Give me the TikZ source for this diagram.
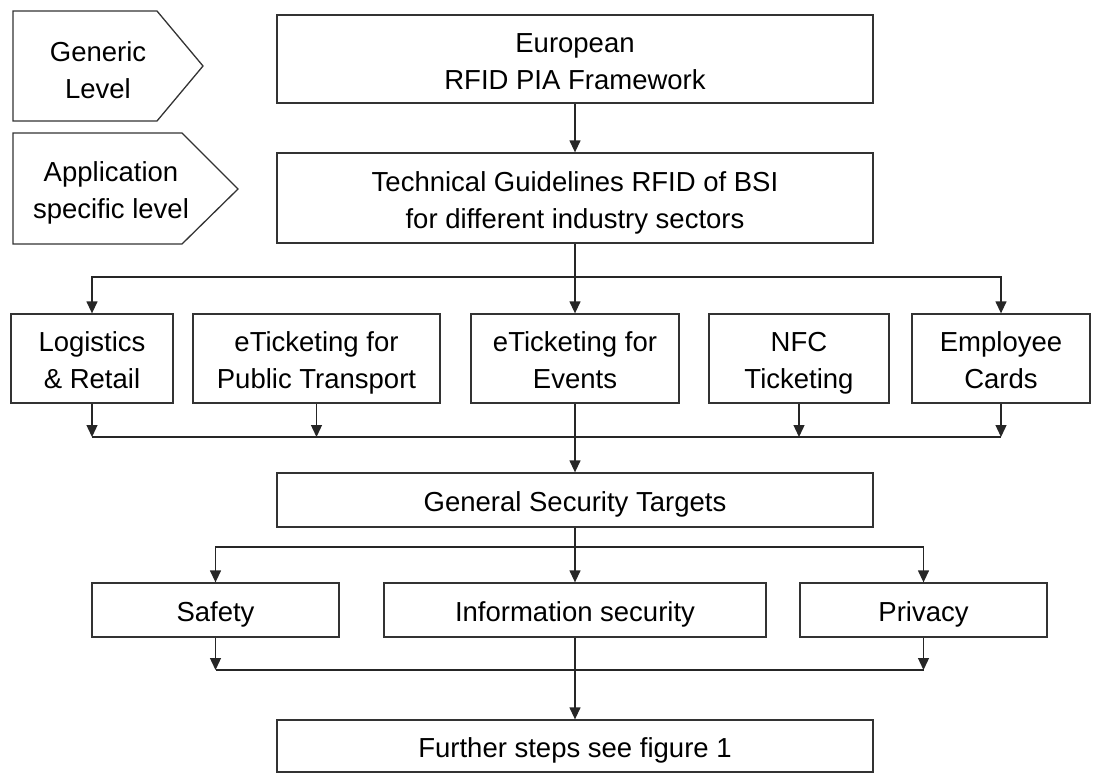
\documentclass[tikz,border=0pt]{standalone}
\usepackage{fontspec}
\setmainfont{Liberation Sans}
\usetikzlibrary{arrows.meta}
\newcommand\sx{\rule[-6.5pt]{0pt}{36pt}}
\begin{document}
\begin{tikzpicture}[x=1pt,y=-1pt,
  every node/.style={font=\fontsize{27.5}{35.5}\selectfont, inner sep=0pt},
  box/.style={draw=black!80, line width=1.3pt, align=center},
  arr/.style={draw=black!85, line width=1.3pt, -{Triangle[length=12pt,width=11pt]}},
  ln/.style={draw=black!85, line width=1.3pt},
  lvl/.style={draw=black!80, line width=1.3pt, line join=miter}]
\useasboundingbox (0,0) rectangle (1093,780);

% level pentagons
\draw[lvl] (13,11) -- (157,11) -- (203,66) -- (157,121) -- (13,121) -- cycle;
\node[align=center] (gen) at (98,68.5) {\sx Generic\\\sx Level};
\draw[lvl] (13,133) -- (182,133) -- (238,189) -- (182,244) -- (13,244) -- cycle;
\node[align=center] (app) at (111,188.5) {\sx Application\\\sx specific level};

% boxes
\node[box, minimum width=596pt, minimum height=88pt] (eu) at (575,59) {\sx European\\\sx RFID PIA Framework};
\node[box, minimum width=596pt, minimum height=90pt] (tg) at (575,198) {\sx Technical Guidelines RFID of BSI\\\sx for different industry sectors};

\node[box, minimum width=162pt, minimum height=89pt] (log) at (92,358.5) {\sx Logistics\\\sx\& Retail};
\node[box, minimum width=247pt, minimum height=89pt] (pub) at (316.5,358.5) {\sx eTicketing for\\\sx Public Transport};
\node[box, minimum width=208pt, minimum height=89pt] (ev) at (575,358.5) {\sx eTicketing for\\\sx Events};
\node[box, minimum width=180pt, minimum height=89pt] (nfc) at (799,358.5) {\sx NFC\\\sx Ticketing};
\node[box, minimum width=178pt, minimum height=89pt] (emp) at (1001,358.5) {\sx Employee\\\sx Cards};

\node[box, minimum width=596pt, minimum height=54pt] (gst) at (575,500) {\sx General Security Targets};

\node[box, minimum width=247pt, minimum height=54pt] (saf) at (215.5,610) {\sx Safety};
\node[box, minimum width=382pt, minimum height=54pt] (inf) at (575,610) {\sx Information security};
\node[box, minimum width=247pt, minimum height=54pt] (priv) at (923.5,610) {\sx Privacy};

\node[box, minimum width=596pt, minimum height=52pt] (fur) at (575,746) {\sx Further steps see figure 1};

% connectors
\draw[arr] (eu.south) -- (tg.north);

\coordinate (d1) at (575,277);
\draw[arr] (tg.south) -- (ev.north);
\draw[arr] (d1) -| (log.north);
\draw[arr] (d1) -| (emp.north);

\coordinate (c1) at (575,437);
\draw[arr] (log.south) -- (log.south |- c1);
\draw[arr] (pub.south) -- (pub.south |- c1);
\draw[arr] (nfc.south) -- (nfc.south |- c1);
\draw[arr] (emp.south) -- (emp.south |- c1);
\draw[ln] (log.south |- c1) -- (emp.south |- c1);
\draw[arr] (ev.south) -- (gst.north);

\coordinate (d2) at (575,547);
\draw[arr] (gst.south) -- (inf.north);
\draw[arr] (d2) -| (saf.north);
\draw[arr] (d2) -| (priv.north);

\coordinate (c2) at (575,670);
\draw[arr] (saf.south) -- (saf.south |- c2);
\draw[arr] (priv.south) -- (priv.south |- c2);
\draw[ln] (saf.south |- c2) -- (priv.south |- c2);
\draw[arr] (inf.south) -- (fur.north);
\end{tikzpicture}
\end{document}
